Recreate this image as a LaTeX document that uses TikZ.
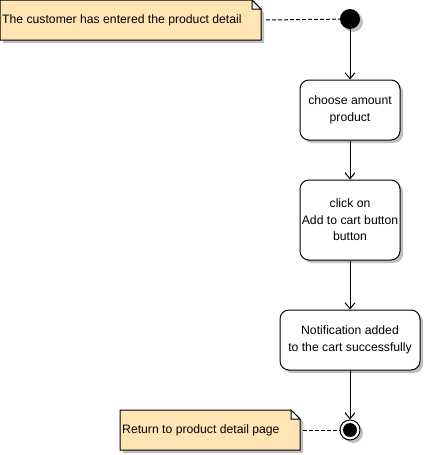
\documentclass[tikz,border=0pt]{standalone}
\usepackage{fontspec}
\setmainfont{Liberation Sans}
\usetikzlibrary{arrows.meta,shadows}
\begin{document}
\begin{tikzpicture}[x=1pt,y=-1pt,
  font=\fontsize{12.2}{16.5}\selectfont,
  shad/.style={drop shadow={shadow xshift=3pt,shadow yshift=-3pt,fill=black!25,opacity=1}},
  act/.style={draw,line width=1pt,rounded corners=9pt,fill=white,shad,align=center,inner sep=0pt},
  flow/.style={draw,-{Straight Barb[length=6pt,width=10pt]},line width=1pt},
  conn/.style={draw,dash pattern=on 4pt off 2pt,line width=1pt},
  notebox/.style={draw,fill=notec,line width=1pt}
]
\useasboundingbox (0,0) rectangle (425,455);
\definecolor{notec}{RGB}{255,229,180}
% note 1
\fill[black!25] (3,3) -- (254,3) -- (264,13) -- (264,43) -- (3,43) -- cycle;
\draw[notebox] (0,0) -- (252,0) -- (261,9) -- (261,40) -- (0,40) -- cycle;
\draw[fill=white,line width=1pt] (252,0) -- (252,9) -- (261,9) -- cycle;
\node[anchor=west,inner sep=0pt] (n1) at (2,20) {The customer has entered the product detail};
\coordinate (n1e) at (266,20);
% initial
\fill[black!25] (353,22) circle (10);
\node[circle,fill=black,minimum size=20pt,inner sep=0pt] (init) at (350,19) {};
% activities
\node[act,minimum width=100pt,minimum height=60pt] (a1) at (350,110) {choose amount\\product};
\node[act,minimum width=100pt,minimum height=80pt] (a2) at (350,220) {click on\\Add to cart button\\button};
\node[act,minimum width=140pt,minimum height=60pt] (a3) at (350,340) {Notification added\\to the cart successfully};
% final
\fill[black!25] (353,433) circle (10);
\node[circle,draw,line width=1pt,fill=white,minimum size=20pt,inner sep=0pt] (fin) at (350,430) {};
\fill (fin.center) circle (7);
% note 2
\fill[black!25] (123,413) -- (294,413) -- (303,422) -- (303,453) -- (123,453) -- cycle;
\draw[notebox] (120,410) -- (291,410) -- (300,419) -- (300,450) -- (120,450) -- cycle;
\draw[fill=white,line width=1pt] (291,410) -- (291,419) -- (300,419) -- cycle;
\node[anchor=west,inner sep=0pt] (n2) at (122,430) {Return to product detail page};
\coordinate (n2e) at (303,430);
% connectors
\draw[flow] (init) -- (a1);
\draw[flow] (a1) -- (a2);
\draw[flow] (a2) -- (a3);
\draw[flow] (a3) -- (fin);
\draw[conn] (n1e) -- (init);
\draw[conn] (n2e) -- (fin);
\end{tikzpicture}
\end{document}
